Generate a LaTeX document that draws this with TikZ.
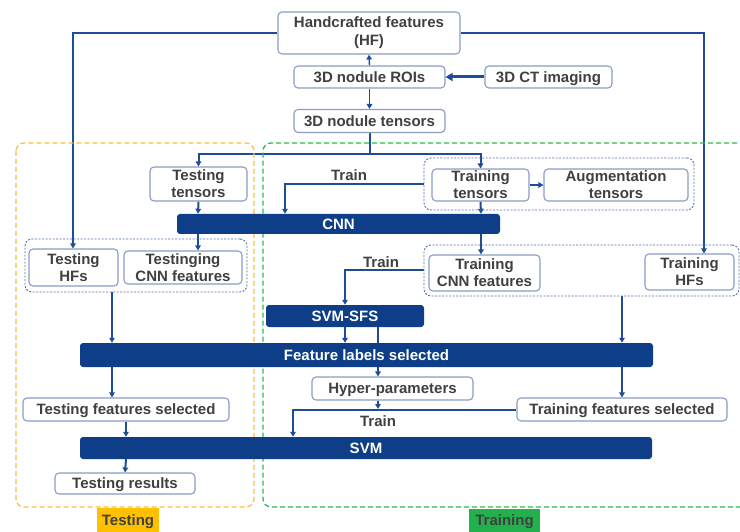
\documentclass[tikz,border=0pt]{standalone}
\usepackage{fontspec}
\setmainfont{Liberation Sans}
\usetikzlibrary{arrows.meta,calc}
\definecolor{navy}{HTML}{0D3E87}
\definecolor{wire}{HTML}{1E4D98}
\definecolor{rim}{HTML}{8A9CC2}
\definecolor{ink}{HTML}{404040}
\definecolor{grp}{HTML}{5470A8}
\definecolor{testfill}{HTML}{FFC000}
\definecolor{trainfill}{HTML}{22B14C}
\definecolor{testdash}{HTML}{F7C23A}
\definecolor{traindash}{HTML}{2DB84E}
\pgfdeclarelayer{bg}
\pgfsetlayers{bg,main}
\begin{document}
\begin{tikzpicture}[x=1pt,y=-1pt,
  every node/.style={font=\fontsize{15}{17}\selectfont\bfseries, text=ink, inner sep=0pt},
  box/.style={draw=rim, line width=1.1pt, rounded corners=4pt, fill=white, align=center},
  sl/.style={text height=10.8pt, text depth=0.6pt},
  bar/.style={fill=navy, rounded corners=3pt, text=white, sl},
  grpbox/.style={draw=grp, line width=0.9pt, dash pattern=on 2pt off 1.5pt, rounded corners=7pt},
  arr/.style={draw=wire, line width=2pt, -{Triangle[length=5pt,width=5.5pt]}},
  phase/.style={dash pattern=on 5pt off 3pt, line width=1.3pt, rounded corners=8pt}]
\useasboundingbox (0,0) rectangle (740,532);

% testing and training regions
\draw[phase, draw=testdash] (16,143) rectangle (254,507);
\draw[phase, draw=traindash] (745,143) -- (263,143) -- (263,507) -- (745,507);
\node[sl, fill=testfill, minimum width=62pt, minimum height=24pt] (lbltest) at (128,520) {Testing};
\node[sl, fill=trainfill, minimum width=71pt, minimum height=23pt] (lbltrain) at (504.5,520.5) {Training};

% top of the pipeline
\node[box, minimum width=182pt, minimum height=42pt] (hf) at (369,33) {Handcrafted features\\[1pt](HF)};
\node[box, sl, minimum width=151pt, minimum height=22pt] (roi) at (369.5,77) {3D nodule ROIs};
\node[box, sl, minimum width=127pt, minimum height=22pt] (ct) at (548.5,77) {3D CT imaging};
\node[box, sl, minimum width=151pt, minimum height=23pt] (ten) at (369.5,121) {3D nodule tensors};

% tensors and CNN
\node[box, minimum width=97pt, minimum height=34pt] (testten) at (198.5,184) {Testing\\tensors};
\node[grpbox, minimum width=270pt, minimum height=52pt] (grpaug) at (559,184) {};
\node[box, minimum width=97pt, minimum height=32pt] (trainten) at (480.5,185) {Training\\tensors};
\node[box, minimum width=144pt, minimum height=32pt] (aug) at (616,185) {Augmentation\\tensors};
\node[bar, minimum width=323pt, minimum height=20pt] (cnn) at (338.5,224) {CNN};

% feature groups
\node[grpbox, minimum width=222pt, minimum height=53pt] (grptest) at (136,265.5) {};
\node[box, minimum width=89pt, minimum height=37pt] (testhf) at (73.5,267.5) {Testing\\HFs};
\node[box, minimum width=118pt, minimum height=33pt] (testcnn) at (183,267.5) {Testinging\\CNN features};
\node[grpbox, minimum width=315pt, minimum height=51pt] (grptrain) at (581.5,270.5) {};
\node[box, minimum width=111pt, minimum height=36pt] (traincnn) at (484.5,273) {Training\\CNN features};
\node[box, minimum width=89pt, minimum height=36pt] (trainhf) at (689.5,272) {Training\\HFs};

% selection and classification
\node[bar, minimum width=158pt, minimum height=22pt] (sfs) at (345,316) {SVM-SFS};
\node[bar, minimum width=573pt, minimum height=24pt] (fls) at (366.5,355) {Feature labels selected};
\node[box, sl, minimum width=161pt, minimum height=23pt] (hyper) at (392.5,388.5) {Hyper-parameters};
\node[box, sl, minimum width=206pt, minimum height=23pt] (testfs) at (126,409.5) {Testing features selected};
\node[box, sl, minimum width=210pt, minimum height=23pt] (trainfs) at (622,409.5) {Training features selected};
\node[bar, minimum width=572pt, minimum height=22pt] (svm) at (366,448) {SVM};
\node[box, sl, minimum width=140pt, minimum height=21pt] (testres) at (125,483.5) {Testing results};

\node[sl] (trainA) at (349,175) {Train};
\node[sl] (trainB) at (381,262) {Train};
\node[sl] (trainC) at (378,421) {Train};

\begin{pgfonlayer}{bg}
  % handcrafted features to both branches
  \draw[arr] (hf.west) -- (73,33) -- (73,0 |- testhf.north);
  \draw[arr] (hf.east) -- (704,33) -- (704,0 |- trainhf.north);
  \draw[draw=wire, line width=3pt, -{Triangle[length=7pt,width=8pt]}] (ct.west) -- (roi.east);
  \draw[arr, line width=1.4pt] (roi.north) -- (hf.south);
  \draw[arr, line width=1.4pt] (roi.south) -- (ten.north);
  \draw[arr] (ten.south) -- ++(0,21) -| (testten.north);
  \draw[arr] (ten.south) -- ++(0,21) -| (trainten.north);
  \draw[arr] (trainten.east) -- (aug.west);
  % CNN
  \draw[arr] (testten.south) -- (198,0 |- cnn.north);
  \draw[arr] (trainten.south) -- (481,0 |- cnn.north);
  \draw[arr] (grpaug.west) -- (285,0 |- grpaug.west) -- (285,0 |- cnn.north);
  \draw[arr] (198,0 |- cnn.south) -- (198,0 |- testcnn.north);
  \draw[arr] (481,0 |- cnn.south) -- (481,0 |- traincnn.north);
  % feature selection
  \draw[arr] (grptrain.west) -- (345,0 |- grptrain.west) -- (sfs.north);
  \draw[arr] (112,0 |- grptest.south) -- (112,0 |- fls.north);
  \draw[arr] (sfs.south) -- (345,0 |- fls.north);
  \draw[arr] (378,0 |- sfs.south) -- (378,0 |- hyper.north);
  \draw[arr] (622,0 |- grptrain.south) -- (622,0 |- fls.north);
  \draw[arr] (622,0 |- fls.south) -- (trainfs.north);
  \draw[arr] (112,0 |- fls.south) -- (112,0 |- testfs.north);
  % SVM
  \draw[arr] (378,0 |- hyper.south) -- (378,409);
  \draw[arr] (trainfs.west) -- (293,0 |- trainfs.west) -- (293,0 |- svm.north);
  \draw[arr] (testfs.south) -- (126,0 |- svm.north);
  \draw[arr] (126,0 |- svm.south) -- (testres.north);
\end{pgfonlayer}
\end{tikzpicture}
\end{document}
